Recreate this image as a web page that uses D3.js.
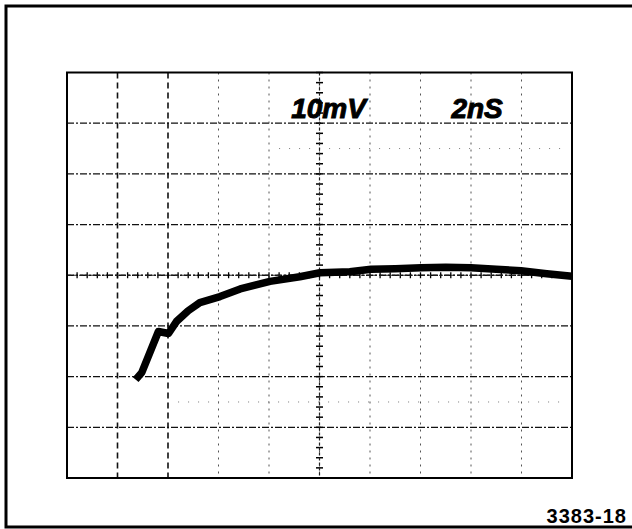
<!DOCTYPE html>
<html>
<head>
<meta charset="utf-8">
<script src="https://cdn.jsdelivr.net/npm/d3@7"></script>
<style>
  body { margin: 0; background: #fff; }
  svg { display: block; }
</style>
</head>
<body>
<svg width="632" height="529"></svg>
<script>
const svg = d3.select("svg");
const width = +svg.attr("width");
const height = +svg.attr("height");

// graticule: 10 divisions of 2 ns, 8 divisions of 10 mV
const timeTicks = [0, 2, 4, 6, 8, 10, 12, 14, 16, 18, 20];
const voltTicks = [-40, -30, -20, -10, 0, 10, 20, 30, 40];
const refLevels = [-25, 25]; // dotted 0% / 100% lines

// trace (time in ns, amplitude in mV)
const timeNs = [2.72, 2.96, 3.62, 4.02, 4.34, 4.8, 5.26, 6.06, 6.86, 8.04, 9.22, 10.02, 11.2, 12.04, 13.0, 14.02, 15.0, 16.0, 17.0, 17.98, 19.0, 20];
const voltMv = [-20.6, -19.2, -11.1, -11.5, -9.1, -7.0, -5.4, -4.2, -2.7, -1.2, -0.3, 0.5, 0.7, 1.2, 1.3, 1.5, 1.6, 1.5, 1.2, 0.9, 0.3, -0.2];

const labels = ["10mV", "2nS"];
const labelPos = [10.36, 16.24]; // ns, centre of each readout
const figureId = "3383-18";

const frame = {left: 67, right: 572, top: 72.5, bottom: 478};

const x = d3.scaleLinear().domain([0, 20]).range([frame.left, frame.right]);
const y = d3.scaleLinear().domain([-40, 40]).range([frame.bottom, frame.top]);

// outer border (open on the right)
svg.append("path")
  .attr("d", `M${width},6 H6 V527 H${width}`)
  .attr("fill", "none")
  .attr("stroke", "#000")
  .attr("stroke-width", 3);

const g = svg.append("g");

// horizontal graticule lines
g.selectAll(".hgrid")
  .data(voltTicks.slice(1, -1))
  .join("line")
  .attr("class", "hgrid")
  .attr("x1", frame.left).attr("x2", frame.right)
  .attr("y1", d => y(d)).attr("y2", d => y(d))
  .attr("stroke", "#111")
  .attr("stroke-width", 1.3)
  .attr("stroke-dasharray", "7,2,2,2");

// vertical graticule lines
g.selectAll(".vgrid")
  .data(timeTicks.slice(1, -1))
  .join("line")
  .attr("class", "vgrid")
  .attr("x1", d => x(d)).attr("x2", d => x(d))
  .attr("y1", frame.top).attr("y2", frame.bottom)
  .attr("stroke", d => d <= 4 ? "#111" : "#555")
  .attr("stroke-width", d => d <= 4 ? 1.6 : 1)
  .attr("stroke-dasharray", d => d <= 4 ? "6,4" : "2,5");

// dotted reference lines
g.selectAll(".ref")
  .data(refLevels)
  .join("line")
  .attr("class", "ref")
  .attr("x1", d => d > 0 ? x(8.4) : x(4.4)).attr("x2", x(19.8))
  .attr("y1", d => y(d)).attr("y2", d => y(d))
  .attr("stroke", "#777")
  .attr("stroke-width", 1)
  .attr("stroke-dasharray", "1,9");

// minor ticks on the centre axes
const minorT = d3.range(0, 20.001, 0.4);
const minorV = d3.range(-40, 40.001, 2);
g.selectAll(".tickH")
  .data(minorT)
  .join("line")
  .attr("class", "tickH")
  .attr("x1", d => x(d)).attr("x2", d => x(d))
  .attr("y1", y(0) - 3).attr("y2", y(0) + 3)
  .attr("stroke", "#000")
  .attr("stroke-width", 1.3);
g.selectAll(".tickV")
  .data(minorV)
  .join("line")
  .attr("class", "tickV")
  .attr("x1", x(10) - 3.5).attr("x2", x(10) + 3.5)
  .attr("y1", d => y(d)).attr("y2", d => y(d))
  .attr("stroke", "#000")
  .attr("stroke-width", 1.5);
g.append("line")
  .attr("x1", x(10)).attr("x2", x(10))
  .attr("y1", frame.top).attr("y2", frame.bottom)
  .attr("stroke", "#222").attr("stroke-width", 1.2)
  .attr("stroke-dasharray", "3,2");
g.append("line")
  .attr("x1", frame.left).attr("x2", frame.right)
  .attr("y1", y(0)).attr("y2", y(0))
  .attr("stroke", "#222").attr("stroke-width", 1.2)
  .attr("stroke-dasharray", "4,2");

// graticule frame
g.append("rect")
  .attr("x", frame.left).attr("y", frame.top)
  .attr("width", frame.right - frame.left)
  .attr("height", frame.bottom - frame.top)
  .attr("fill", "none")
  .attr("stroke", "#000")
  .attr("stroke-width", 2);

// waveform
const trace = timeNs.map((t, i) => [t, voltMv[i]]);
const line = d3.line()
  .x(d => x(d[0]))
  .y(d => y(d[1]));

g.append("path")
  .datum(trace)
  .attr("d", line)
  .attr("fill", "none")
  .attr("stroke", "#000")
  .attr("stroke-width", 7.5)
  .attr("stroke-linejoin", "round")
  .attr("stroke-linecap", "butt");

// scale-factor readouts
g.selectAll(".readout")
  .data(labels)
  .join("text")
  .attr("class", "readout")
  .attr("x", (d, i) => x(labelPos[i]))
  .attr("y", 118)
  .attr("text-anchor", "middle")
  .style("font-family", "'Liberation Sans', Arial, sans-serif")
  .style("font-weight", "bold")
  .style("font-style", "italic")
  .style("font-size", "28px")
  .style("stroke", "#000")
  .style("stroke-width", 1)
  .text(d => d);

svg.append("text")
  .attr("x", 627)
  .attr("y", 523)
  .attr("text-anchor", "end")
  .style("font-family", "'Liberation Sans', Arial, sans-serif")
  .style("font-weight", "bold")
  .style("font-size", "20px")
  .style("letter-spacing", "1px")
  .text(figureId);
</script>
</body>
</html>
